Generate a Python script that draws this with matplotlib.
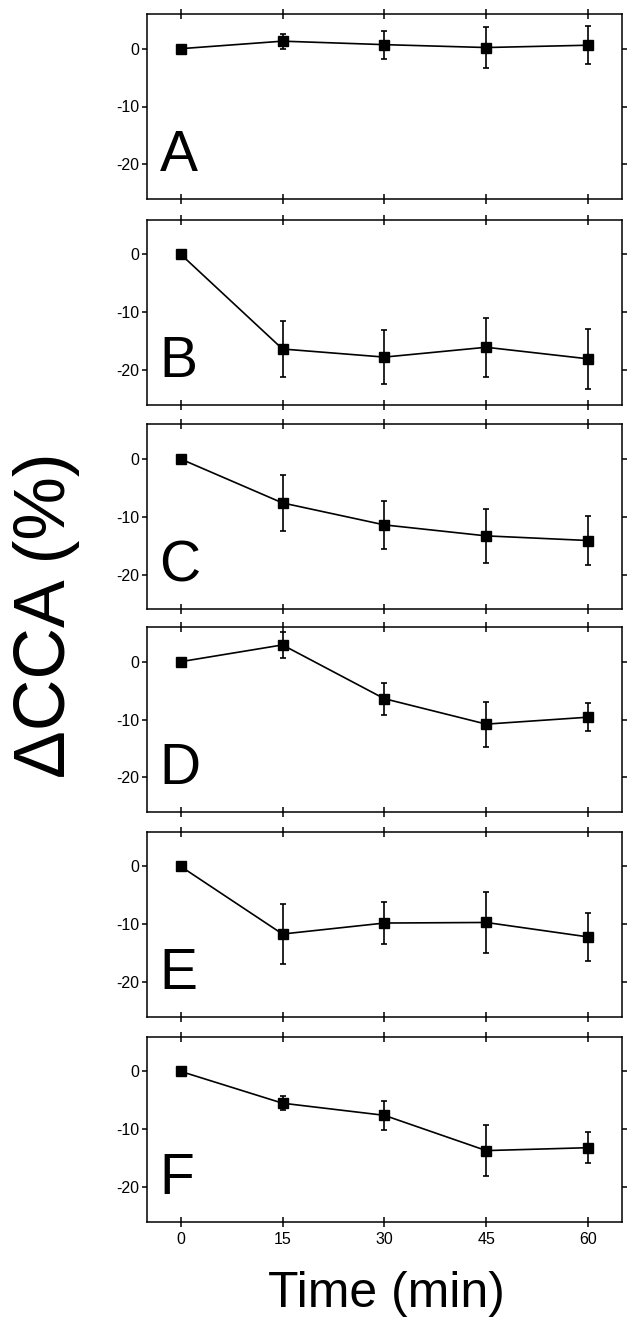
import numpy as np
from matplotlib import pyplot as plt

plt.rcParams['font.family'] = ['Liberation Sans', 'DejaVu Sans']
plt.rcParams['axes.unicode_minus'] = False

time = [0, 15, 30, 45, 60]
labels = ['A', 'B', 'C', 'D', 'E', 'F']

# mean change of CCA (%) per panel
mean_A = [0.0, 1.3, 0.7, 0.2, 0.6]
mean_B = [0.0, -16.4, -17.8, -16.1, -18.1]
mean_C = [0.0, -7.6, -11.4, -13.3, -14.1]
mean_D = [0.0, 2.9, -6.4, -10.8, -9.6]
mean_E = [0.0, -11.7, -9.8, -9.7, -12.2]
mean_F = [0.0, -5.5, -7.6, -13.7, -13.2]

# error bars
err_A = [0.0, 1.3, 2.4, 3.6, 3.3]
err_B = [0.0, 4.8, 4.7, 5.1, 5.2]
err_C = [0.0, 4.9, 4.2, 4.7, 4.2]
err_D = [0.0, 2.3, 2.8, 3.9, 2.4]
err_E = [0.0, 5.2, 3.6, 5.3, 4.1]
err_F = [0.0, 1.2, 2.5, 4.4, 2.7]

means = [mean_A, mean_B, mean_C, mean_D, mean_E, mean_F]
errs = [err_A, err_B, err_C, err_D, err_E, err_F]

W, H = 627, 1322
fig = plt.figure(figsize=(W / 100, H / 100), dpi=100)

tops = [14, 219.5, 424.3, 627, 831.7, 1036.7]
ax_h = 185
left = 146.7
ax_w = 622 - left

for i in range(6):
    ax = fig.add_axes([left / W, 1 - (tops[i] + ax_h) / H, ax_w / W, ax_h / H])
    ax.errorbar(time, means[i], yerr=errs[i], color='black', lw=1.2,
                marker='s', markersize=6.5, capsize=2.5, elinewidth=1.2,
                capthick=1.2)
    ax.set_xlim(-5, 65)
    ax.set_ylim(-26, 6)
    ax.set_xticks(time)
    ax.set_yticks([0, -10, -20])
    ax.tick_params(axis='x', direction='inout', length=7, width=1.1,
                   top=True, labelsize=11.5, pad=4)
    ax.tick_params(axis='y', direction='out', length=3.5, width=1.1,
                   right=True, labelsize=11.5, pad=2)
    if i < 5:
        ax.tick_params(axis='x', labelbottom=False)
    for s in ax.spines.values():
        s.set_linewidth(1.1)
    ax.text(0.027, 0.149, labels[i], transform=ax.transAxes, fontsize=41,
            va='baseline', ha='left')

fig.text(47 / W, 1 - 615 / H, 'ΔCCA (%)', rotation=90, fontsize=51.5,
         ha='center', va='center')
fig.text(386 / W, 1 - 1307 / H, 'Time (min)', fontsize=36,
         ha='center', va='baseline')

plt.savefig('out.png', dpi=100)
